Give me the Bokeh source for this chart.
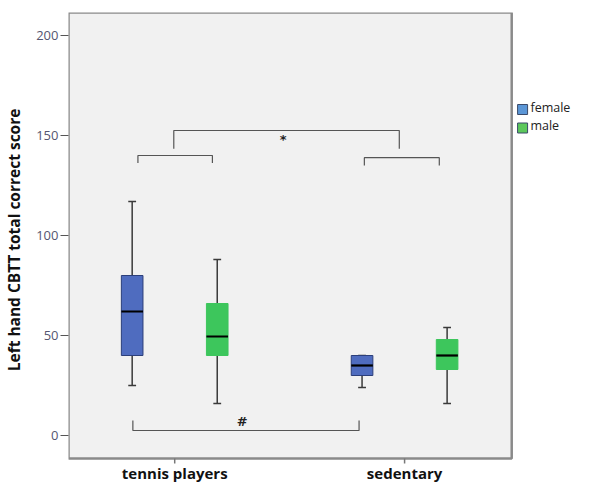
from bokeh.plotting import figure
from bokeh.models import Range1d, FixedTicker, ColumnDataSource
from bokeh.core.properties import value
from bokeh.embed import file_html
from bokeh.resources import INLINE

# ---- data ----
groups = ["tennis players", "sedentary"]
group_pos = [1, 2]
sexes = ["female", "male"]
offsets = [-0.185, 0.185]
colors = ["#4f6cbf", "#3dc65c"]
legend_colors = ["#5b96d6", "#5cc85c"]
edge_colors = ["#2c3f7a", "#3dc65c"]
y_ticks = [0, 50, 100, 150, 200]

# order: tennis female, tennis male, sedentary female, sedentary male
lower = [25, 16, 24, 16]
q1 = [40, 40, 30, 33]
median = [62, 49.5, 35, 40]
q3 = [80, 66, 40, 48]
upper = [117, 88, 40, 54]

# significance brackets: (x0, x1, y_bar, y_tick)
brackets = [
    (0.996, 1.977, 152.5, 143.4),
    (0.840, 1.164, 140.0, 136.2),
    (1.825, 2.151, 138.9, 135.0),
    (0.818, 1.802, 2.5, 7.5),
]
marks = ["*", "#"]
mark_x = [1.472, 1.294]
mark_y = [147.9, 7.2]

# legend placement (data units, outside the plotting box)
legend_sq_x = 2.5133
legend_sq_y = [163, 153.75]
legend_tx_x = 2.5474
legend_tx_y = [164.15, 155]

# plotting box extent (data units)
box_x0, box_x1 = 0.538, 2.466
box_y0, box_y1 = -11.5, 211.5

box_w = 0.094
cap_w = 0.034

p = figure(width=577, height=483, output_backend="svg", toolbar_location=None,
           x_range=Range1d(0.538, 2.7522), y_range=Range1d(-24, 211.5),
           min_border_left=58, min_border_right=0, min_border_top=12,
           min_border_bottom=0)
p.background_fill_color = "white"
p.border_fill_color = "white"
p.outline_line_color = None
p.xgrid.visible = False
p.ygrid.visible = False
p.xaxis.visible = False

# plotting area box
p.quad(left=[box_x0], right=[box_x1], bottom=[box_y0], top=[box_y1],
       fill_color="#f1f1f1", line_color="#8a8a8a", line_width=2.5)

xs = []
cols = []
ecols = []
for gp in group_pos:
    for i, off in enumerate(offsets):
        xs.append(gp + off)
        cols.append(colors[i])
        ecols.append(edge_colors[i])

src = ColumnDataSource(dict(
    x=xs, lower=lower, q1=q1, median=median, q3=q3, upper=upper,
    color=cols, ecolor=ecols,
    xl=[x - box_w / 2 for x in xs], xr=[x + box_w / 2 for x in xs],
    cl=[x - cap_w / 2 for x in xs], cr=[x + cap_w / 2 for x in xs],
))

# whiskers
p.segment(x0="x", y0="q3", x1="x", y1="upper", source=src, line_color="#3a3a3a", line_width=1.5)
p.segment(x0="x", y0="lower", x1="x", y1="q1", source=src, line_color="#3a3a3a", line_width=1.5)
p.segment(x0="cl", y0="upper", x1="cr", y1="upper", source=src, line_color="#3a3a3a", line_width=1.5)
p.segment(x0="cl", y0="lower", x1="cr", y1="lower", source=src, line_color="#3a3a3a", line_width=1.5)
# boxes
p.vbar(x="x", width=box_w, bottom="q1", top="q3", source=src,
       fill_color="color", line_color="ecolor", line_width=1)
# medians
p.segment(x0="xl", y0="median", x1="xr", y1="median", source=src, line_color="black", line_width=2.2)

# brackets
for (x0, x1, yb, yt) in brackets:
    p.line([x0, x0, x1, x1], [yt, yb, yb, yt], line_color="#555555", line_width=1.2)
p.text(x=mark_x, y=mark_y, text=marks, text_align="center", text_baseline="middle",
       text_font_size="13px", text_font_style="bold", text_color="#222222",
       text_font=value("DejaVu Sans"))

# category axis (ticks + labels) below the box
p.segment(x0=group_pos, y0=[box_y0] * 2, x1=group_pos, y1=[box_y0 - 2.5] * 2,
          line_color="#777777", line_width=1.5)
p.text(x=group_pos, y=[-18.5] * 2, text=groups, text_align="center", text_baseline="middle",
       text_font_size="15px", text_font_style="bold", text_color="#111111",
       text_font=value("Open Sans"))

# legend (outside the plotting box, right side)
p.scatter(x=[legend_sq_x] * 2, y=legend_sq_y, marker="square", size=10,
          fill_color=legend_colors, line_color="#3a4a6a", line_width=1)
p.text(x=[legend_tx_x] * 2, y=legend_tx_y, text=sexes, text_align="left",
       text_baseline="middle", text_font_size="12.5px", text_color="#222222",
       text_font=value("Open Sans"))

# y axis
p.yaxis.ticker = FixedTicker(ticks=y_ticks)
p.yaxis.axis_label = "\u00a0" * 4 + "Left hand CBTT total correct score"
p.yaxis.axis_label_text_font = "Open Sans"
p.yaxis.axis_label_text_font_style = "bold"
p.yaxis.axis_label_text_font_size = "15.5px"
p.yaxis.axis_label_text_color = "#111111"
p.yaxis.axis_label_standoff = 8
p.yaxis.major_label_text_font = "Open Sans"
p.yaxis.major_label_text_font_size = "13px"
p.yaxis.major_label_text_color = "#555570"
p.yaxis.major_label_standoff = 2
p.yaxis.minor_tick_line_color = None
p.yaxis.major_tick_in = 0
p.yaxis.major_tick_out = 8
p.yaxis.major_tick_line_color = "#555555"
p.yaxis.axis_line_color = None

open("out.html", "w").write(file_html(p, INLINE))
